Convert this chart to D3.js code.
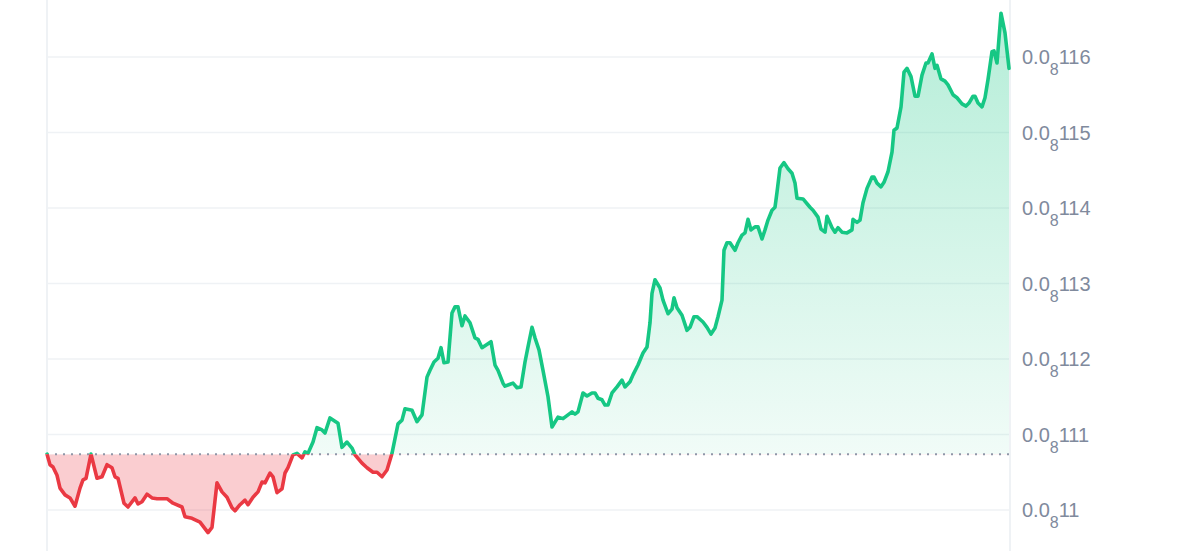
<!DOCTYPE html>
<html>
<head>
<meta charset="utf-8">
<script src="https://cdn.jsdelivr.net/npm/d3@7"></script>
<style>
  html, body { margin: 0; padding: 0; background: #fff; }
  svg { display: block; }
</style>
</head>
<body>
<svg id="chart" width="1200" height="551"></svg>
<script>
// Minutes from start of window
const times = [0,3,6,10,13,18,23,28,33,36,39,44,50,55,60,65,68,71,77,81,88,91,95,100,105,110,120,126,135,138,145,153,157,161,165,170,175,180,185,188,193,198,201,206,211,215,218,223,226,230,235,238,241,246,250,255,258,261,266,270,275,278,283,291,295,300,305,308,315,320,326,330,335,340,345,351,355,358,365,370,375,380,383,387,391,394,397,401,405,408,411,415,418,423,426,428,431,435,444,448,451,456,458,466,470,474,478,481,485,488,492,496,501,505,511,516,521,525,528,531,536,540,545,548,551,555,558,561,565,570,575,578,583,586,591,596,600,603,605,608,613,616,621,625,627,630,635,640,643,647,650,656,660,664,668,671,675,677,680,683,688,691,695,698,701,704,708,711,715,718,721,725,728,730,733,737,741,745,748,750,756,763,766,771,774,778,780,785,788,791,795,800,805,806,810,813,816,820,825,827,830,834,837,841,845,847,850,854,857,860,864,868,871,875,879,881,885,888,890,894,898,901,906,910,915,919,922,926,928,931,935,938,941,945,947,950,954,958,962];
// Price in units of 1e-11 (i.e. 110 = 0.0000000011)
const prices = [110.74,110.60,110.57,110.46,110.29,110.20,110.16,110.05,110.29,110.40,110.42,110.74,110.42,110.44,110.60,110.56,110.44,110.42,110.09,110.04,110.16,110.08,110.11,110.21,110.16,110.15,110.15,110.09,110.04,109.91,109.89,109.84,109.77,109.70,109.77,110.36,110.24,110.17,110.03,109.99,110.07,110.13,110.07,110.17,110.24,110.37,110.36,110.49,110.44,110.23,110.28,110.49,110.56,110.73,110.75,110.69,110.77,110.75,110.90,111.09,111.06,111.02,111.22,111.15,110.83,110.90,110.82,110.73,110.62,110.56,110.50,110.50,110.44,110.53,110.75,111.14,111.19,111.34,111.32,111.17,111.26,111.76,111.85,111.96,112.01,112.15,111.95,111.96,112.61,112.69,112.69,112.44,112.57,112.48,112.36,112.28,112.26,112.15,112.23,111.92,111.85,111.68,111.64,111.68,111.62,111.63,111.96,112.16,112.42,112.28,112.12,111.85,111.50,111.10,111.23,111.21,111.26,111.30,111.27,111.30,111.55,111.51,111.55,111.55,111.48,111.46,111.39,111.39,111.55,111.63,111.72,111.63,111.70,111.79,111.92,112.08,112.16,112.48,112.87,113.05,112.94,112.78,112.60,112.66,112.81,112.68,112.58,112.38,112.42,112.56,112.56,112.49,112.42,112.33,112.41,112.56,112.78,113.44,113.54,113.54,113.44,113.54,113.64,113.67,113.85,113.71,113.75,113.75,113.59,113.71,113.84,113.97,114.01,114.21,114.53,114.60,114.52,114.46,114.33,114.13,114.12,114.01,113.97,113.88,113.72,113.68,113.89,113.74,113.68,113.74,113.68,113.67,113.71,113.85,113.81,113.84,114.07,114.26,114.41,114.41,114.33,114.28,114.34,114.48,114.74,115.03,115.06,115.34,115.80,115.85,115.74,115.48,115.48,115.76,115.92,115.92,116.04,115.85,115.89,115.71,115.68,115.63,115.50,115.46,115.38,115.35,115.39,115.48,115.48,115.39,115.34,115.46,115.70,116.07,116.08,115.92,116.58,116.32,115.85];
const tickValues = [110,111,112,113,114,115,116];
const baselinePrice = prices[0];

const GREEN = "#16c784", RED = "#ea3943";

const svg = d3.select("#chart");
const W = 1200, H = 551;
const left = 47, right = 1009;

const x = d3.scaleLinear().domain([0, 962]).range([left, right]);
const y = d3.scaleLinear().domain([110, 116]).range([510, 57]);

const data = times.map((t, i) => ({t, v: prices[i]}));
const by = y(baselinePrice);

const defs = svg.append("defs");
const grad = defs.append("linearGradient").attr("id", "gfill")
  .attr("gradientUnits", "userSpaceOnUse")
  .attr("x1", 0).attr("x2", 0).attr("y1", y(116.6)).attr("y2", by);
grad.append("stop").attr("offset", 0).attr("stop-color", GREEN).attr("stop-opacity", 0.32);
grad.append("stop").attr("offset", 1).attr("stop-color", GREEN).attr("stop-opacity", 0.06);

defs.append("clipPath").attr("id", "above").append("rect")
  .attr("x", left - 3).attr("y", 0).attr("width", right - left + 6).attr("height", by);
defs.append("clipPath").attr("id", "below").append("rect")
  .attr("x", left - 3).attr("y", by).attr("width", right - left + 6).attr("height", H - by);

// horizontal grid
svg.append("g").selectAll("line").data(tickValues).join("line")
  .attr("x1", left).attr("x2", right + 1)
  .attr("y1", d => y(d)).attr("y2", d => y(d))
  .attr("stroke", "#eff2f5").attr("stroke-width", 1.5);

// vertical borders
svg.append("line").attr("x1", left).attr("x2", left).attr("y1", 0).attr("y2", H)
  .attr("stroke", "#eff2f5").attr("stroke-width", 2);
svg.append("line").attr("x1", right + 1).attr("x2", right + 1).attr("y1", 0).attr("y2", H)
  .attr("stroke", "#eff2f5").attr("stroke-width", 2);

const area = d3.area().x(d => x(d.t)).y0(by).y1(d => y(d.v));
const line = d3.line().x(d => x(d.t)).y(d => y(d.v));

svg.append("path").datum(data).attr("d", area)
  .attr("fill", "url(#gfill)").attr("clip-path", "url(#above)");
svg.append("path").datum(data).attr("d", area)
  .attr("fill", RED).attr("fill-opacity", 0.25).attr("clip-path", "url(#below)");

// baseline dotted
svg.append("line").attr("x1", left).attr("x2", right)
  .attr("y1", by).attr("y2", by)
  .attr("stroke", "#8f96a8").attr("stroke-width", 2).attr("stroke-dasharray", "2 6");

svg.append("path").datum(data).attr("d", line)
  .attr("fill", "none").attr("stroke", GREEN).attr("stroke-width", 3.6)
  .attr("stroke-linejoin", "round").attr("stroke-linecap", "round").attr("clip-path", "url(#above)");
svg.append("path").datum(data).attr("d", line)
  .attr("fill", "none").attr("stroke", RED).attr("stroke-width", 3.6)
  .attr("stroke-linejoin", "round").attr("stroke-linecap", "round").attr("clip-path", "url(#below)");

// y-axis labels
function digits(v) { return String(v).replace(/0+$/, ""); }
const lab = svg.append("g").selectAll("text").data(tickValues).join("text")
  .attr("x", 1022).attr("y", d => y(d) + 7)
  .attr("fill", "#808a9d")
  .style("font-family", "'Liberation Sans', Arial, Helvetica, sans-serif")
  .style("font-size", "20px");
lab.append("tspan").text("0.0");
lab.append("tspan").attr("dy", 11).style("font-size", "16px").text("8");
lab.append("tspan").attr("dy", -11).text(d => digits(d));
</script>
</body>
</html>
